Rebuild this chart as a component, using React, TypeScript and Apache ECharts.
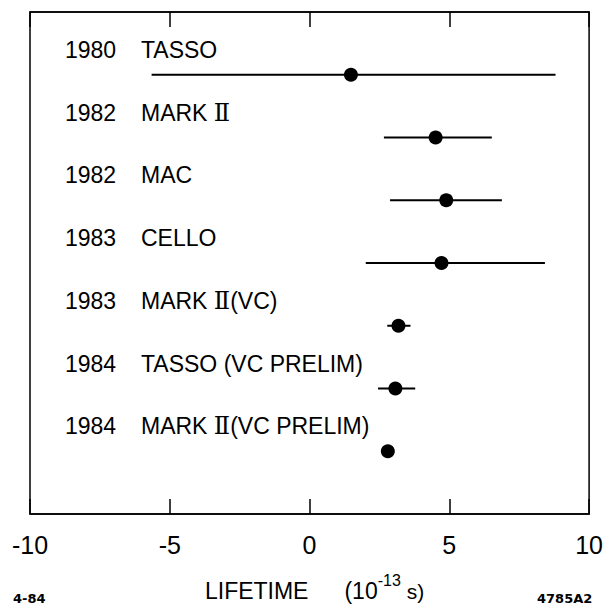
import React, { useEffect, useRef } from "react";
import * as echarts from "echarts";

// Data (lifetime in units of 10^-13 s)
const years = ["1980", "1982", "1982", "1983", "1983", "1984", "1984"];
const experiments = [
  "TASSO",
  "MARK Ⅱ",
  "MAC",
  "CELLO",
  "MARK Ⅱ(VC)",
  "TASSO (VC PRELIM)",
  "MARK Ⅱ(VC PRELIM)",
];
const lifetimes = [1.48, 4.51, 4.89, 4.72, 3.18, 3.07, 2.8];
const errLow = [-5.65, 2.66, 2.88, 2.01, 2.78, 2.45, 2.8];
const errHigh = [8.8, 6.52, 6.88, 8.42, 3.61, 3.78, 2.8];
const xMin = -10;
const xMax = 10;
const xInterval = 5;

const FONT = '"Liberation Sans", Arial, sans-serif';
const ROMAN_FONT = '"DejaVu Serif", "Liberation Serif", serif';

// turn "MARK Ⅱ(VC)" into rich text so the roman numeral uses a font with bars
function toRich(s: string): string {
  return s
    .split("Ⅱ")
    .map((part) => (part ? `{a|${part}}` : ""))
    .join("{r|Ⅱ}");
}

export default function App() {
  const ref = useRef<HTMLDivElement>(null);

  useEffect(() => {
    if (!ref.current) return;
    const chart = echarts.init(ref.current, undefined, { renderer: "svg" });

    const data = lifetimes.map((v, i) => [i, v, errLow[i], errHigh[i]]);

    const axisCommon = {
      type: "value" as const,
      min: xMin,
      max: xMax,
      interval: xInterval,
      splitLine: { show: false },
      axisLine: { show: true, onZero: false, lineStyle: { color: "#000", width: 1.5 } },
      axisTick: {
        show: true,
        inside: true,
        length: 15,
        lineStyle: { color: "#000", width: 1.5 },
      },
    };

    const labelRich = {
      a: { fontSize: 23, fontFamily: FONT, fill: "#000", color: "#000" },
      r: { fontSize: 24, fontFamily: ROMAN_FONT, fill: "#000", color: "#000" },
    };

    chart.setOption({
      animation: false,
      backgroundColor: "#fff",
      grid: {
        left: 30,
        right: 13,
        top: 12,
        bottom: 82,
        show: true,
        borderColor: "#000",
        borderWidth: 1.5,
        backgroundColor: "transparent",
      },
      xAxis: [
        {
          ...axisCommon,
          position: "bottom",
          axisLabel: {
            show: true,
            fontSize: 25,
            fontFamily: FONT,
            color: "#000",
            margin: 18,
          },
          name: "{a|LIFETIME}{g|}{a|(10}{sup|-13}{b| s)}",
          nameLocation: "middle",
          nameGap: 58,
          nameTextStyle: {
            padding: [0, 0, 0, 10],
            rich: {
              a: { fontSize: 23, fontFamily: FONT, color: "#000", lineHeight: 30, verticalAlign: "bottom" },
              b: { fontSize: 21, fontFamily: FONT, color: "#000", lineHeight: 30, verticalAlign: "bottom" },
              g: { width: 36 },
              sup: { fontSize: 16, fontFamily: FONT, color: "#000", lineHeight: 16, verticalAlign: "top" },
            },
          },
        },
        {
          ...axisCommon,
          position: "top",
          axisLabel: { show: false },
        },
      ],
      yAxis: {
        type: "value",
        min: -1,
        max: 7,
        inverse: true,
        show: false,
      },
      series: [
        {
          type: "custom",
          xAxisIndex: 0,
          yAxisIndex: 0,
          encode: { x: [1, 2, 3], y: 0 },
          data,
          renderItem: (params: any, api: any) => {
            const i = api.value(0);
            const c = api.coord([api.value(1), i]);
            const lo = api.coord([api.value(2), i]);
            const hi = api.coord([api.value(3), i]);
            const cs = params.coordSys;
            return {
              type: "group",
              children: [
                {
                  type: "line",
                  shape: { x1: lo[0], y1: c[1], x2: hi[0], y2: c[1] },
                  style: { stroke: "#000", lineWidth: 2 },
                },
                {
                  type: "circle",
                  shape: { cx: c[0], cy: c[1], r: 7 },
                  style: { fill: "#000" },
                },
                {
                  type: "text",
                  x: cs.x + 35,
                  y: c[1] - 25,
                  style: {
                    text: years[i],
                    fontSize: 23,
                    fontFamily: FONT,
                    fill: "#000",
                    align: "left",
                    verticalAlign: "middle",
                  },
                },
                {
                  type: "text",
                  x: cs.x + 111,
                  y: c[1] - 25,
                  style: {
                    text: toRich(experiments[i]),
                    rich: labelRich,
                    fontSize: 23,
                    fontFamily: FONT,
                    fill: "#000",
                    align: "left",
                    verticalAlign: "middle",
                  },
                },
              ],
            };
          },
        },
      ],
      graphic: [
        {
          type: "text",
          left: 13,
          top: 592,
          style: {
            text: "4-84",
            fontSize: 13,
            fontWeight: "bold",
            fontFamily: '"DejaVu Sans", sans-serif',
            fill: "#000",
          },
        },
        {
          type: "text",
          left: 537,
          top: 592,
          style: {
            text: "4785A2",
            fontSize: 13,
            fontWeight: "bold",
            fontFamily: '"DejaVu Sans", sans-serif',
            fill: "#000",
          },
        },
      ],
    });

    return () => {
      chart.dispose();
    };
  }, []);

  return (
    <div
      ref={ref}
      style={{ position: "fixed", left: 0, top: 0, width: 606, height: 607, background: "#fff" }}
    />
  );
}
